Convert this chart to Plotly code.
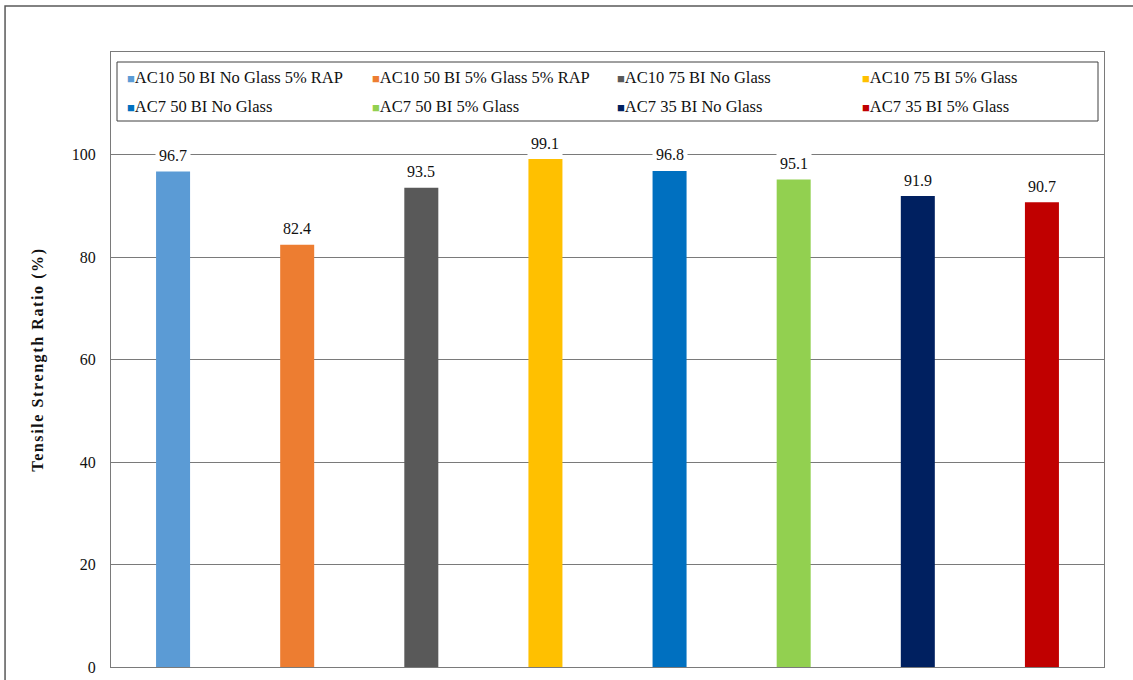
import plotly.graph_objects as go

# Mix designs and their tensile strength ratios
mixes = [
    "AC10 50 BI No Glass 5% RAP",
    "AC10 50 BI 5% Glass 5% RAP",
    "AC10 75 BI No Glass",
    "AC10 75 BI 5% Glass",
    "AC7 50 BI No Glass",
    "AC7 50 BI 5% Glass",
    "AC7 35 BI No Glass",
    "AC7 35 BI 5% Glass",
]
tsr = [96.7, 82.4, 93.5, 99.1, 96.8, 95.1, 91.9, 90.7]
colors = ["#5B9BD5", "#ED7D31", "#595959", "#FFC000",
          "#0070C0", "#92D050", "#002060", "#C00000"]
y_ticks = [0, 20, 40, 60, 80, 100]

FONT = "Liberation Serif"
TXT = "#111111"
GRID = "#7a7a7a"
W, H = 1133, 680

fig = go.Figure()
for i, (name, val, col) in enumerate(zip(mixes, tsr, colors)):
    fig.add_trace(go.Bar(
        x=[name], y=[val], name=name, showlegend=False,
        marker=dict(color=col, line=dict(width=0)),
        width=0.274,
    ))
    # value label with a white box so gridlines stop around it
    fig.add_annotation(
        x=name, y=val, text=f"{val:.1f}", showarrow=False,
        yanchor="middle", yshift=16, bgcolor="white", borderpad=3,
        font=dict(family=FONT, size=16, color=TXT),
    )

# legend entries: small coloured square followed by the mix name,
# first four mixes on the top row, the rest on the second row
for i, (name, col) in enumerate(zip(mixes, colors)):
    fig.add_trace(go.Scatter(
        x=[None], y=[None], mode="markers",
        marker=dict(color="rgba(0,0,0,0)", size=0, line=dict(width=0)),
        name=f"<span style='color:{col};font-size:13px'>■</span>{name}",
        legend="legend" if i < 4 else "legend2",
        hoverinfo="skip",
    ))

row_legend = dict(
    orientation="h", xref="container", yref="container",
    xanchor="left", yanchor="middle", x=87 / W,
    entrywidth=200, entrywidthmode="pixels", itemwidth=30,
    bgcolor="rgba(0,0,0,0)", borderwidth=0, traceorder="normal",
    font=dict(family=FONT, size=16.5, color=TXT),
)

fig.update_layout(
    width=W, height=H,
    margin=dict(l=111, r=29, t=52, b=13, autoexpand=False),
    paper_bgcolor="white", plot_bgcolor="white",
    barmode="overlay",
    font=dict(family=FONT, size=16, color=TXT),
    showlegend=True,
    legend=dict(row_legend, y=(H - 77) / H),
    legend2=dict(row_legend, y=(H - 106) / H),
    xaxis=dict(
        type="category", range=[-0.5, 7.5], showticklabels=False,
        showgrid=False, ticks="", showline=True, mirror=True,
        linecolor=GRID, linewidth=1,
    ),
    yaxis=dict(
        range=[0, 120], tickvals=y_ticks, ticks="", showgrid=True,
        gridcolor=GRID, gridwidth=1, showline=True, mirror=True,
        linecolor=GRID, linewidth=1, zeroline=False,
        ticklabelstandoff=11,
        tickfont=dict(family=FONT, size=16, color=TXT),
        title=dict(
            text="<b><span style='letter-spacing:1.6px'>Tensile Strength Ratio (%)</span></b>",
            standoff=24, font=dict(family=FONT, size=16, color=TXT)),
    ),
)

# legend frame
fig.add_shape(type="rect", xref="paper", yref="paper",
              x0=6 / 993, x1=987 / 993, y0=546 / 615, y1=605 / 615,
              line=dict(color="#404040", width=1), fillcolor="white",
              layer="above")

# outer chart frame
fig.add_shape(type="rect", xref="paper", yref="paper",
              x0=-0.1067, x1=1.04, y0=-0.2, y1=1.0748,
              line=dict(color="#595959", width=1.5), layer="below")

fig.write_html("out.html")
